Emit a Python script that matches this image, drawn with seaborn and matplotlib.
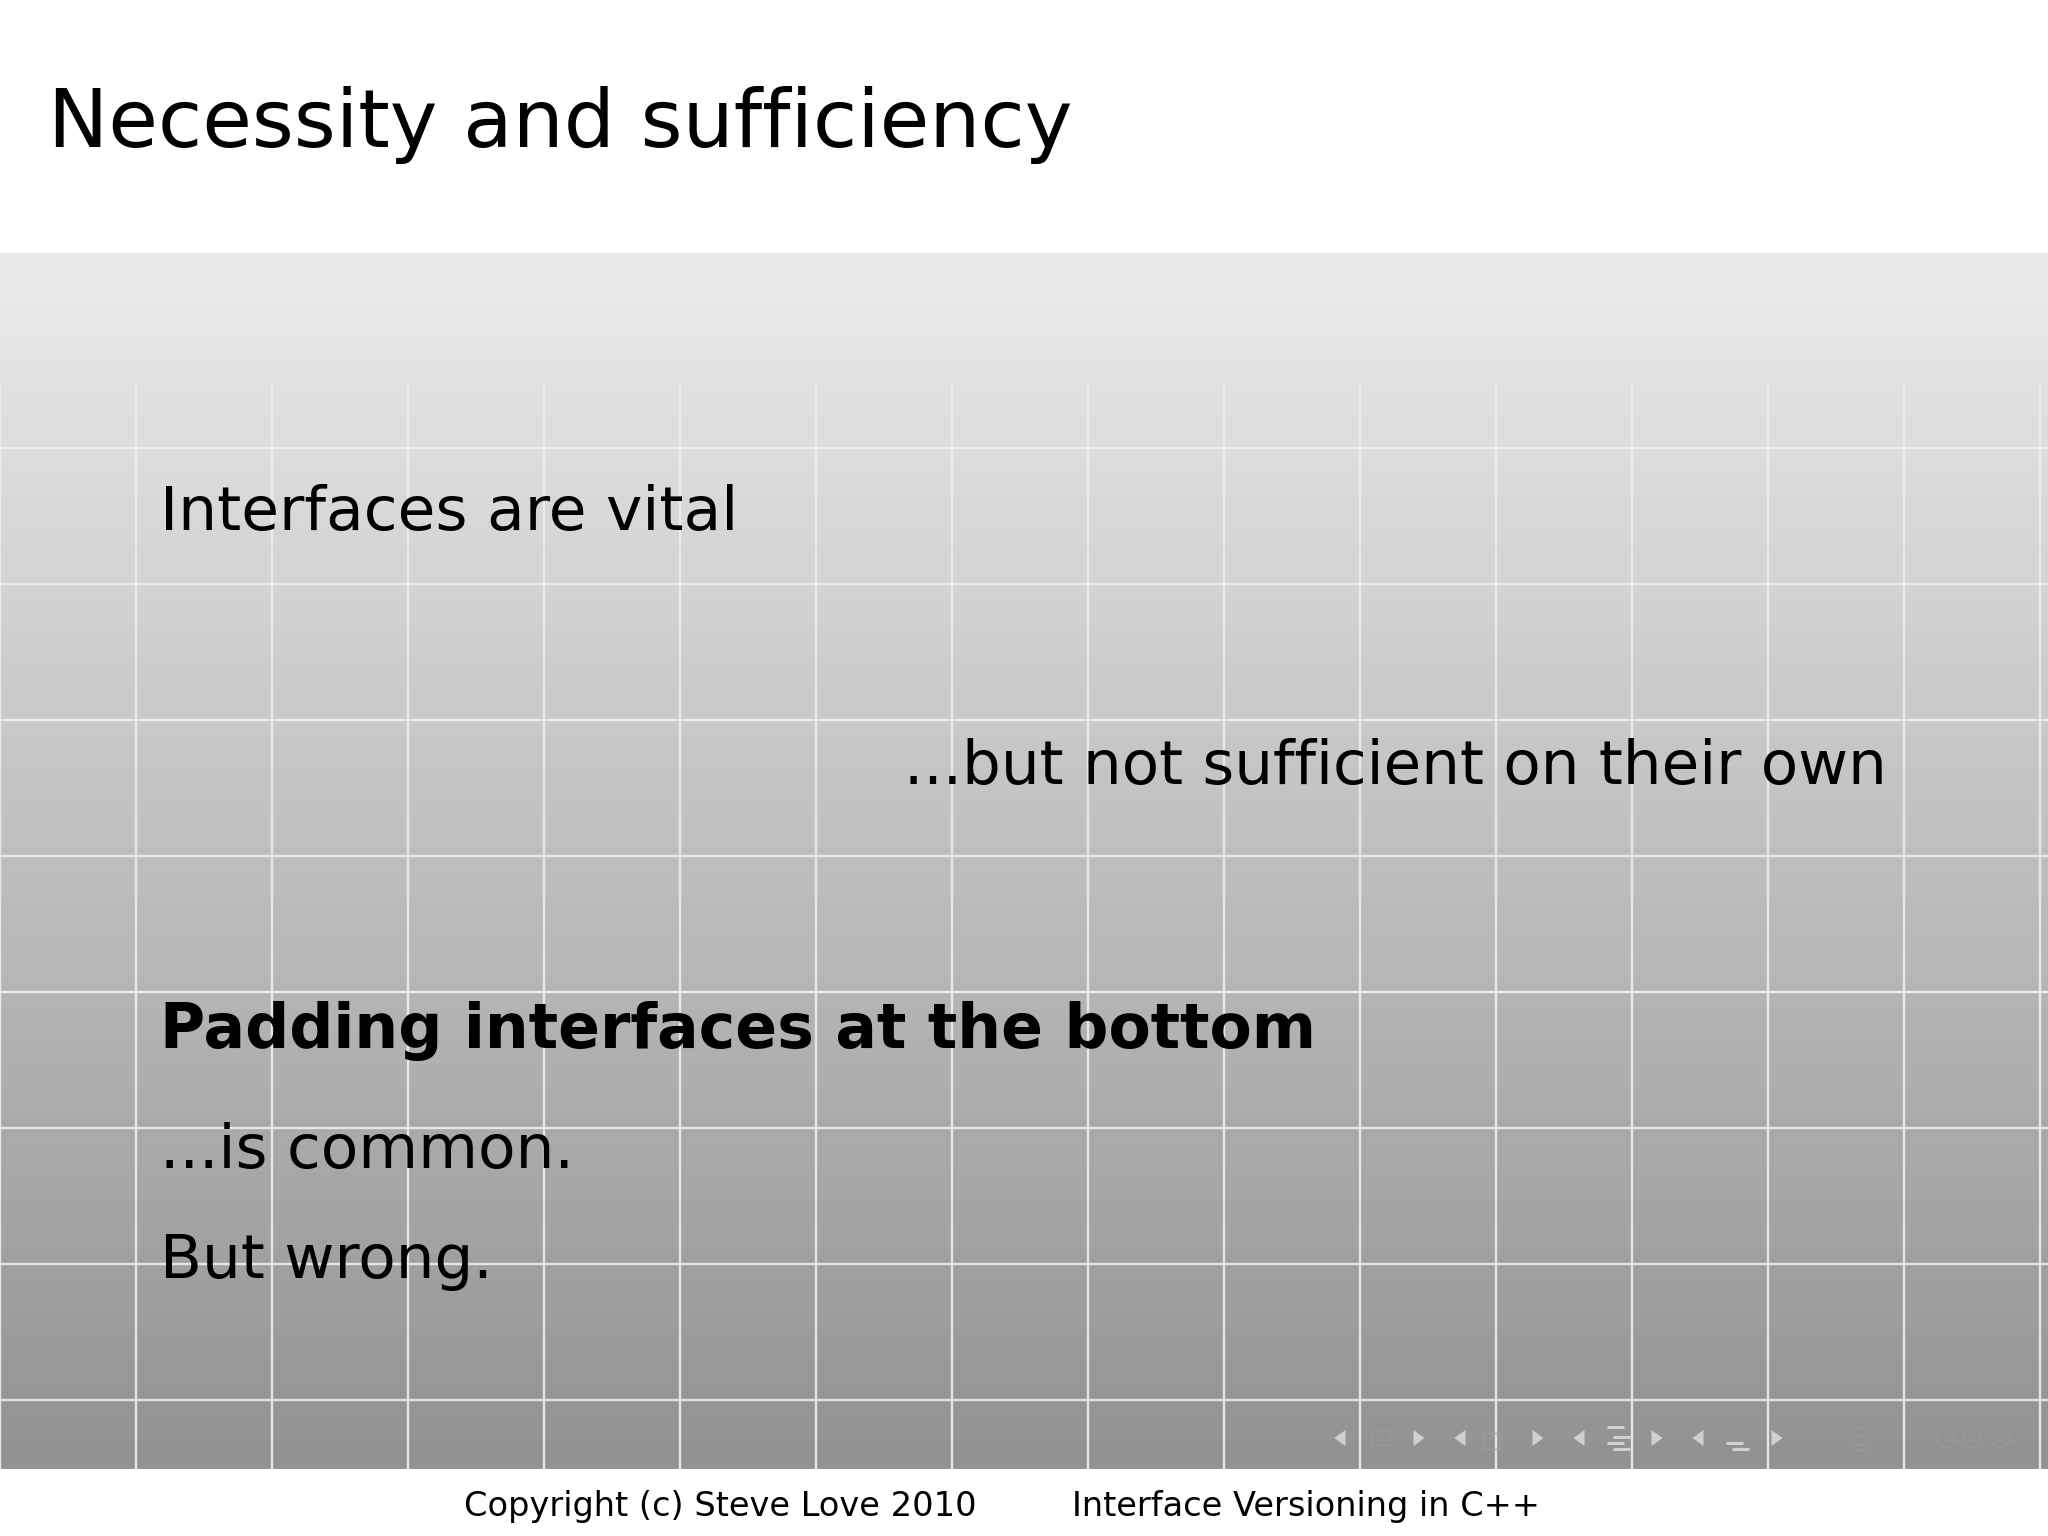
import numpy as np
import matplotlib
matplotlib.use("Agg")
import matplotlib.pyplot as plt
import seaborn as sns

title = "Necessity and sufficiency"
line_vital = "Interfaces are vital"
line_but = "...but not sufficient on their own"
line_padding = "Padding interfaces at the bottom"
line_common = "...is common."
line_wrong = "But wrong."
footer_left = "Copyright (c) Steve Love 2010"
footer_right = "Interface Versioning in C++"

gray_levels = [234, 232, 230, 228, 226, 224, 222, 220, 218, 216, 214, 212,
               210, 208, 206, 204, 202, 200, 198, 196, 194, 192, 190, 188,
               186, 184, 182, 180, 178, 176, 174, 172, 170, 168, 166, 164,
               162, 160, 158, 156, 154, 152, 150, 148, 146]

W, H = 2048, 1536
PANEL_TOP, PANEL_BOTTOM = 253, 1469

sns.set_theme(style="white")
plt.rcParams['font.family'] = ['DejaVu Sans']

fig = plt.figure(figsize=(W / 100, H / 100), dpi=100, facecolor="white")

# gradient panel
ax_bg = fig.add_axes([0, (H - PANEL_BOTTOM) / H, 1, (PANEL_BOTTOM - PANEL_TOP) / H])
sns.heatmap(np.array(gray_levels, dtype=float).reshape(-1, 1), ax=ax_bg,
            cmap="gray", vmin=0, vmax=255, cbar=False,
            xticklabels=False, yticklabels=False, linewidths=0)
ax_bg.set_axis_off()

# overlay in pixel coordinates
ax = fig.add_axes([0, 0, 1, 1], facecolor="none")
ax.set_xlim(0, W)
ax.set_ylim(H, 0)
ax.set_axis_off()

GRID = "#eeeeee"
ax.vlines(np.arange(0, W, 136) + 0.0, 385, PANEL_BOTTOM, color=GRID, lw=1.7, alpha=0.9)
ax.hlines(np.arange(448, 1401, 136) + 0.0, 0, W, color=GRID, lw=1.7, alpha=0.9)


def tri(cx, left):
    d = -5.5 if left else 5.5
    ax.fill([cx - d, cx - d, cx + d], [1430, 1446, 1438], color="#d0d0d0", lw=0)


for cx in (1340, 1460, 1579, 1698):
    tri(cx, True)
for cx in (1419, 1538, 1657, 1777):
    tri(cx, False)

BAR = "#d2d2d2"
for y, x0, x1 in ((1427, 1607, 1624), (1437, 1613, 1630), (1443, 1607, 1624),
                  (1449, 1613, 1630), (1443, 1726, 1743), (1449, 1732, 1749)):
    ax.hlines(y, x0, x1, color=BAR, lw=2.2)

FAINT = "#9d9d9d"
for x0, x1, y0, y1 in ((1372, 1390, 1430, 1445), (1483, 1500, 1433, 1449)):
    ax.plot([x0, x1, x1, x0, x0], [y0, y0, y1, y1, y0], color=FAINT, lw=0.8)
for y, x0, x1 in ((1428, 1850, 1866), (1436, 1856, 1868), (1444, 1850, 1866), (1450, 1856, 1868)):
    ax.hlines(y, x0, x1, color=FAINT, lw=0.8)
for cx in (1945, 1972, 2000):
    ax.plot([cx], [1438], marker="o", ms=13, mfc="none", mec=FAINT, mew=0.6)

# text
kw = dict(color="black", va="baseline", ha="left")
ax.text(48, 147, title, fontsize=58.1, **kw)
ax.text(160, 530, line_vital, fontsize=44.25, **kw)
ax.text(904, 784, line_but, fontsize=44.05, **kw)
ax.text(160, 1048, line_padding, fontsize=44.35, fontweight="bold", **kw)
ax.text(160, 1168, line_common, fontsize=44.2, **kw)
ax.text(160, 1278, line_wrong, fontsize=44.1, **kw)
ax.text(464, 1516, footer_left, fontsize=24.2, **kw)
ax.text(1072, 1516, footer_right, fontsize=24.2, **kw)

fig.savefig("out.png", dpi=100)
